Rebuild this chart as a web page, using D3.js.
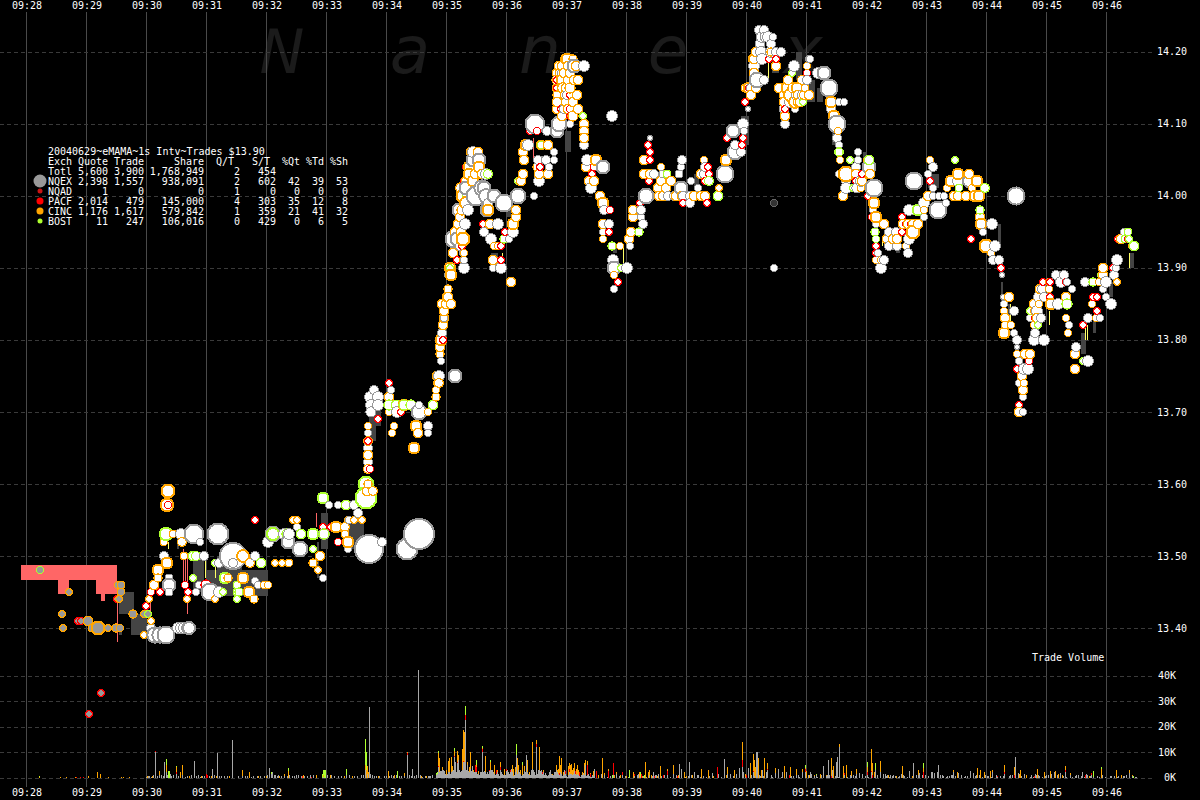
<!DOCTYPE html>
<html><head><meta charset="utf-8">
<script src="https://cdnjs.cloudflare.com/ajax/libs/d3/7.8.5/d3.min.js"></script>
<style>html,body{margin:0;padding:0;background:#000;overflow:hidden}svg{display:block}text{font-family:"DejaVu Sans Mono",monospace;font-size:10px;fill:#fff}</style>
</head><body><svg id="c" width="1200" height="800"></svg>
<script>
// ---------- labels ----------
const timeLabels=["09:28","09:29","09:30","09:31","09:32","09:33","09:34","09:35","09:36","09:37","09:38","09:39","09:40","09:41","09:42","09:43","09:44","09:45","09:46"];
const priceTicks=[14.2,14.1,14.0,13.9,13.8,13.7,13.6,13.5,13.4];
const volumeTicks=[0,10,20,30,40];
const watermark=["N","a","n","e","x"];
const titleLine="20040629~eMAMA~1s Intv~Trades $13.90";
const tableHeads=["Exch","Quote","Trade","Share","Q/T","S/T","%Qt","%Td","%Sh"];
const tableRows=[
["Totl","5,600","3,900","1,768,949","2","454","","",""],
["NQEX","2,398","1,557","938,091","2","602","42","39","53"],
["NQAD","1","0","0","1","0","0","0","0"],
["PACF","2,014","479","145,000","4","303","35","12","8"],
["CINC","1,176","1,617","579,842","1","359","21","41","32"],
["BOST","11","247","106,016","0","429","0","6","5"]];

// ---------- quote spread bands: [startSec, endSec, low, high] ----------
const preOpenSpread=[[-6,90,13.467,13.487],[31,42,13.447,13.467],[69,90,13.447,13.467],[74,78,13.437,13.447]];
const darkSpread=[[92,107,13.42,13.45],[104,120,13.39,13.42],[92,95,13.39,13.40],[166,177,13.45,13.50],[180,241,13.445,13.48],[190,215,13.47,13.50],[150,152,13.51,13.53],[294,301,13.51,13.56],[321,337,13.51,13.55],[290,292,13.47,13.52],
[342,349,13.66,13.71],[349,354,13.68,13.72],[464,471,13.90,13.92],[667,672,14.01,14.03],[696,701,14.02,14.04],[714,722,14.07,14.11],[745,752,14.17,14.20],[769,775,14.16,14.20],[780,788,14.13,14.16],[790,796,14.13,14.15],
[869,873,13.92,13.95],[901,912,14.01,14.03],[971,974,13.93,13.96],[974,976,13.85,13.88],[981,984,13.83,13.85],[1054,1059,13.78,13.81],[1066,1069,13.81,13.83],[1082,1086,13.86,13.88],[1102,1107,13.90,13.92],[480,484,13.97,14.00],[538,544,14.06,14.09],[586,590,13.92,13.93],[836,840,14.03,14.06],[805,809,14.07,14.10]];

// ---------- trade-through wicks: [sec, low, high] ----------
const redWicks=[[91,13.38,13.44],[124,13.41,13.44],[157,13.46,13.51],[159,13.46,13.50],[161,13.42,13.50],[507,14.05,14.08],[290,13.54,13.56]];
const yellowWicks=[[179,13.47,13.50],[189,13.47,13.49],[142,13.51,13.52],[597,13.90,13.93],[476,13.90,13.92],[742,14.16,14.19],[856,13.93,13.94],[1103,13.90,13.92],[984,13.82,13.85],[1002,13.76,13.78],[1023,13.82,13.84],[1059,13.80,13.82],[1061,13.80,13.82],[955,13.96,13.98]];

// ---------- trades: [sec after 09:28, price, shares] ----------
const nqexTrades=[[124,13.40,1600],[128,13.39,5000],[133,13.39,5000],[139,13.39,6300],[151,13.40,2400],[154,13.40,2400],[157,13.40,2400],[160,13.40,2400],[162,13.40,3000],[142,13.47,1200],[142,13.46,3500],[142,13.45,1200],[137,13.50,1600],[154,13.53,2400],[167,13.53,8000],[191,13.53,9800],[173,13.52,900],[177,13.50,1600],[169,13.45,900],[172,13.46,1000],[184,13.45,6300],[193,13.45,2400],[192,13.49,1500],[206,13.50,16500],[206,13.49,1500],[228,13.50,1600],[229,13.465,900],[231,13.46,1000],[241,13.52,2400],[246,13.53,4800],[261,13.52,3500],[257,13.53,2400],[262,13.53,2400],[273,13.51,4800],[270,13.54,900],[296,13.47,900],[296,13.58,900],[302,13.57,1000],[297,13.53,2400],[311,13.57,900],[321,13.51,900],[327,13.57,1600],[322,13.55,1000],[331,13.56,1600],[342,13.51,19200],[355,13.52,1600],[380,13.51,9800],[392,13.53,22000],[341,13.65,1600],[341,13.64,1600],[341,13.63,1600],[341,13.67,900],[343,13.72,2400],[351,13.72,2400],[344,13.71,2400],[351,13.71,2400],[344,13.70,2000],[347,13.73,1600],[364,13.73,1000],[370,13.70,2400],[392,13.70,4800],[392,13.71,900],[401,13.68,1600],[401,13.67,900],[429,13.75,3500],[412,13.75,2400],[421,13.89,900],[437,13.90,2400],[437,13.91,900],[436,13.92,900],[433,13.93,1600],[427,13.94,6300],[432,13.98,3500],[449,14.00,8000],[446,14.05,3500],[459,14.03,2400],[457,14.01,3500],[467,14.00,3500],[461,13.99,1600],[477,13.99,6300],[471,13.96,2400],[457,13.95,1600],[464,13.94,2400],[482,13.94,900],[466,13.90,900],[474,13.90,2400],[486,13.95,2400],[491,14.00,4800],[501,14.07,2400],[509,14.10,8000],[507,14.00,900],[520,14.09,1600],[530,14.09,3500],[532,14.10,4800],[543,14.10,900],[511,14.05,1600],[519,14.05,1600],[527,14.06,900],[527,14.05,900],[522,14.04,1000],[512,14.02,2400],[530,14.12,1600],[547,14.18,3500],[557,14.18,2400],[585,14.11,2400],[557,14.07,1600],[560,14.05,2400],[576,14.04,3500],[565,14.01,2400],[577,13.98,1600],[582,13.96,1600],[576,13.95,900],[586,13.91,2400],[587,13.90,3500],[601,13.90,2400],[587,13.87,900],[603,13.93,1000],[616,13.96,1600],[614,13.97,1000],[614,13.98,1600],[619,14.00,4800],[623,14.08,400],[641,14.00,1600],[647,14.00,1600],[656,14.00,1600],[663,14.00,1600],[654,14.01,3500],[627,14.03,1400],[637,14.03,1200],[652,14.03,1200],[654,14.04,900],[655,14.05,1600],[664,14.02,900],[671,14.01,900],[663,13.99,1600],[677,14.03,1600],[679,14.04,1600],[698,14.03,6300],[706,14.09,3500],[709,14.06,4800],[714,14.06,1600],[709,14.07,1600],[716,14.10,2400],[717,14.09,1000],[721,14.12,400],[724,14.15,1600],[730,14.16,4800],[727,14.18,2400],[734,14.20,2400],[744,14.20,2400],[754,14.20,1600],[736,14.22,2400],[741,14.22,2400],[746,14.22,900],[744,14.21,1600],[732,14.23,1600],[737,14.23,1600],[759,14.10,1600],[768,14.12,900],[767,14.18,2400],[782,14.19,900],[781,14.16,1600],[791,14.17,2400],[783,14.19,900],[797,14.17,3500],[789,14.17,1000],[802,14.15,6300],[817,14.13,900],[812,14.13,900],[804,14.12,1600],[810,14.10,6300],[810,14.08,1600],[812,14.07,900],[831,14.06,900],[831,14.05,900],[842,14.04,3500],[829,14.04,1600],[812,14.03,900],[819,14.02,1600],[819,14.01,2400],[847,14.01,6300],[846,13.98,900],[849,13.96,1000],[862,13.95,1600],[869,13.95,1600],[882,13.94,2400],[862,13.93,1600],[881,13.92,1600],[854,13.90,2400],[858,13.91,1600],[851,13.92,1000],[882,13.98,2400],[897,13.99,2400],[897,13.97,1000],[887,14.02,6300],[907,14.04,1600],[901,14.03,900],[906,14.01,900],[906,14.00,1000],[912,14.00,1000],[917,14.00,900],[919,13.99,900],[911,13.98,6300],[931,14.02,2400],[942,14.02,3000],[965,13.96,2400],[957,13.95,900],[968,13.93,2400],[966,13.91,1600],[972,13.91,1600],[975,13.89,400],[976,13.86,400],[977,13.85,900],[987,13.84,1600],[987,13.81,900],[990,13.80,1600],[990,13.79,400],[992,13.77,900],[997,13.76,2400],[1001,13.76,2400],[996,13.72,900],[996,13.70,1000],[989,14.00,6300],[1007,13.80,2400],[1017,13.80,2400],[1010,13.84,2400],[1012,13.86,2400],[1022,13.88,400],[1029,13.89,1600],[1037,13.89,1600],[1034,13.88,2400],[1040,13.88,900],[1031,13.85,2400],[1042,13.82,900],[1049,13.79,1600],[1047,13.78,700],[1062,13.77,2400],[1062,13.83,1600],[1073,13.83,900],[1079,13.86,900],[1076,13.87,900],[1085,13.85,2400],[1079,13.88,2400],[1087,13.89,1600],[1089,13.90,1000],[1090,13.91,2400],[1097,13.95,900],[747,13.90,900],
[415,13.81,1600],[418,13.83,1000],[414,13.77,1000],[535,14.17,1600],[540,14.14,1600],[537,14.12,1600],[543,14.17,1600],[452,14.05,3500],[447,14.06,2400],[440,14.01,3500],[455,14.01,5000],[460,13.98,3500],[459,14.00,4000],[430,13.94,3500],[436,13.94,2400],[438,13.96,2400],[441,13.98,2400],[738,14.22,1800],[734,14.22,1800],[733,14.21,1800],[736,14.19,2400],[748,14.18,1200],[749,14.20,1600],[737,14.16,1600],[770,14.14,2400],[776,14.14,2400],[763,14.13,2400],[757,14.12,1800],[1015,13.87,1600],[1018,13.86,1600],[1014,13.83,1600],[992,13.74,1000],
[835,14.02,2400],[830,14.01,2000],[870,13.93,1600],[1058,13.88,1600],[1045,13.87,1000],[1003,13.83,1000],[1008,13.81,1600]];

const cincTrades=[[117,13.39,500],[124,13.41,500],[122,13.44,500],[124,13.45,900],[127,13.46,1600],[131,13.48,2400],[131,13.47,1200],[140,13.49,2400],[141,13.59,3500],[140,13.57,3200],[138,13.52,1000],[147,13.53,1000],[156,13.52,1400],[157,13.50,1000],[160,13.44,500],[188,13.44,800],[201,13.47,1200],[216,13.50,2800],[216,13.47,2400],[223,13.49,1400],[222,13.45,2400],[227,13.44,1200],[237,13.46,900],[241,13.46,900],[248,13.49,500],[255,13.49,500],[262,13.49,1000],[266,13.55,800],[270,13.55,700],[287,13.49,1000],[294,13.50,1600],[287,13.49,1200],[291,13.48,800],[309,13.54,2400],[318,13.54,1400],[318,13.53,1000],[321,13.55,700],[321,13.52,2400],[327,13.55,800],[335,13.55,800],[340,13.59,1600],[346,13.59,1400],[341,13.62,1400],[341,13.60,1200],[341,13.66,1300],[341,13.68,900],[341,13.64,1600],[362,13.72,1600],[362,13.70,900],[377,13.71,2400],[367,13.68,900],[365,13.67,900],[389,13.68,2400],[391,13.67,1600],[387,13.65,2400],[401,13.70,900],[409,13.72,1200],[409,13.73,900],[411,13.74,900],[424,13.85,1600],[422,13.86,1600],[424,13.89,2400],[423,13.90,2400],[426,13.92,1600],[436,13.94,3500],[436,13.96,900],[437,14.00,4800],[434,14.01,2200],[442,14.04,2400],[452,14.04,2400],[447,14.02,2400],[461,13.98,2400],[463,13.96,1600],[467,13.93,900],[471,13.93,900],[466,13.91,1600],[484,13.88,1600],[486,13.96,2400],[489,13.97,1600],[489,13.98,1600],[494,14.02,1600],[496,14.03,1600],[497,14.05,1600],[496,14.06,1600],[499,14.07,2400],[514,14.07,1600],[521,14.07,1600],[512,14.03,1600],[521,14.03,1600],[510,14.04,1200],[530,14.12,1600],[531,14.14,1200],[531,14.16,2000],[532,14.18,1800],[533,14.17,1800],[535,14.16,2400],[536,14.15,2200],[540,14.19,2400],[541,14.18,1600],[541,14.16,1600],[551,14.16,1600],[538,14.14,1600],[550,14.14,1600],[551,14.12,1600],[557,14.10,1600],[557,14.09,1600],[557,14.08,1600],[569,14.05,2400],[559,14.04,1800],[562,14.02,1600],[567,14.02,1600],[574,14.00,1600],[576,13.99,2400],[576,13.94,900],[576,13.96,1600],[593,13.93,900],[587,13.89,900],[602,13.94,1600],[604,13.95,1600],[606,13.97,1600],[606,13.98,1600],[617,14.03,1600],[624,14.03,1600],[617,14.05,1600],[632,14.00,1600],[637,14.00,1800],[649,14.00,1600],[655,14.00,1600],[667,14.00,1600],[674,14.00,1600],[678,14.00,1800],[631,14.01,1600],[639,14.01,1600],[634,14.02,1600],[644,14.02,1600],[674,14.03,1600],[634,14.04,900],[677,14.05,900],[700,14.05,2400],[692,14.01,400],[718,14.15,1000],[722,14.15,2400],[724,14.14,1600],[727,14.17,1600],[727,14.19,1600],[729,14.20,1600],[745,14.20,1200],[749,14.18,1600],[752,14.15,1600],[757,14.14,1600],[757,14.13,1600],[759,14.11,1600],[771,14.13,1600],[768,14.13,2800],[771,14.14,1600],[777,14.14,1400],[781,14.18,900],[782,14.14,1600],[778,14.15,1000],[804,14.13,2400],[807,14.11,2400],[811,14.09,900],[813,14.05,900],[819,14.03,4800],[829,14.03,1800],[840,14.05,900],[844,14.03,1600],[836,14.02,1600],[834,14.01,1000],[816,14.00,1600],[847,13.99,2400],[849,13.97,2400],[857,13.96,1600],[860,13.94,1600],[866,13.94,1600],[871,13.94,1600],[876,13.96,1600],[881,13.96,1600],[886,13.96,1600],[891,13.96,1600],[886,13.95,3500],[879,13.93,900],[849,13.91,900],[854,13.91,900],[897,13.98,900],[903,14.05,900],[901,14.00,1600],[920,14.01,900],[924,14.02,2400],[931,14.03,2400],[942,14.03,1600],[950,14.02,2400],[945,14.01,900],[927,14.00,1600],[931,14.00,1600],[939,14.00,1600],[949,14.00,2400],[952,14.00,2400],[953,13.97,1600],[954,13.96,2400],[959,13.93,3500],[964,13.92,900],[982,13.86,1600],[977,13.84,900],[978,13.83,1600],[984,13.82,900],[979,13.82,900],[977,13.81,2400],[990,13.78,900],[998,13.78,1600],[1003,13.78,1600],[995,13.75,1600],[997,13.74,900],[996,13.73,1600],[993,13.70,1600],[1007,13.82,900],[1007,13.85,1600],[1012,13.85,900],[1014,13.87,900],[1022,13.88,900],[1022,13.87,900],[1024,13.85,2400],[1039,13.86,1600],[1039,13.83,900],[1041,13.81,900],[1048,13.78,1600],[1048,13.76,1600],[1069,13.83,900],[1065,13.85,900],[1072,13.88,900],[1076,13.89,1600],[1090,13.88,400],[1076,13.90,1600],[1094,13.94,1600],[1105,13.93,900],
[411,13.75,1600],[412,13.74,1400],[413,13.78,1200],[414,13.80,2400],[413,13.79,1600],[416,13.82,1600],[417,13.83,1600],[415,13.85,1600],[418,13.84,1600],[420,13.86,1600],[421,13.87,1200],[419,13.85,1600],[530,14.17,1800],[530,14.15,1800],[531,14.13,1800],[535,14.18,1600],[538,14.19,1400],[537,14.17,1800],[539,14.15,1800],[539,14.13,1800],[546,14.19,1200],[544,14.17,1800],[544,14.15,2000],[547,14.16,1800],[546,14.13,1600],[549,14.18,1600],[535,14.11,1800],[541,14.12,1800],[546,14.11,2000],[442,14.03,2400],[444,14.06,1800],[439,14.02,1800],[448,14.03,1600],[451,14.06,1600],[455,14.03,1600],[440,13.99,3000],[435,13.98,2000],[433,13.97,1600],[431,13.96,1800],[428,13.95,1600],[434,13.95,1800],[437,13.92,900],[436,13.91,900],[726,14.19,1800],[729,14.15,1600],[760,14.15,2400],[764,14.14,3000],[770,14.15,2400],[775,14.16,1400],[766,14.15,2000],[773,14.13,1800],[761,14.16,1600],[1010,13.83,1600],[1013,13.87,1600],[1008,13.84,1400]];

const pacfTrades=[[119,13.43,500],[124,13.45,900],[133,13.45,500],[141,13.57,900],[158,13.46,900],[161,13.45,700],[179,13.46,2000],[181,13.45,1200],[228,13.55,400],[296,13.54,600],[304,13.54,600],[311,13.52,900],[343,13.62,900],[341,13.66,700],[362,13.74,700],[351,13.69,500],[375,13.70,700],[430,13.91,600],[435,13.93,700],[432,13.97,400],[437,14.02,500],[440,14.04,700],[456,13.96,600],[474,13.91,700],[478,13.95,500],[474,13.93,500],[503,14.09,700],[510,14.09,900],[513,14.04,700],[530,14.15,600],[531,14.16,600],[534,14.12,500],[544,14.12,900],[543,14.14,500],[543,14.15,500],[543,14.11,500],[567,14.04,1000],[566,14.03,800],[583,13.98,900],[582,13.95,600],[591,13.88,700],[613,13.99,600],[622,14.02,600],[622,14.03,500],[624,14.05,700],[624,14.06,700],[621,14.07,700],[656,13.99,500],[680,13.99,500],[679,14.02,600],[682,14.03,700],[681,14.04,500],[691,14.00,1800],[701,14.08,500],[715,14.07,700],[716,14.08,500],[723,14.15,800],[718,14.13,700],[742,14.19,600],[749,14.19,600],[759,14.12,600],[780,14.17,900],[836,14.03,600],[829,14.02,600],[841,14.00,500],[845,13.97,900],[849,13.92,500],[849,13.93,500],[875,13.97,700],[875,13.96,700],[880,13.96,800],[885,13.96,700],[875,13.95,800],[891,13.98,500],[903,14.02,500],[944,13.94,500],[974,13.90,700],[990,13.76,700],[994,13.75,800],[992,13.71,500],[1002,13.77,900],[1009,13.83,500],[1016,13.88,800],[1023,13.88,500],[1023,13.86,400],[1039,13.88,900],[1056,13.82,700],[1067,13.86,500],[1070,13.86,500],[1070,13.84,500],[1086,13.90,800],[1091,13.94,400],[1101,13.94,500],[416,13.80,500]];

const bostTrades=[[139,13.53,3200],[166,13.50,1800],[166,13.47,500],[169,13.50,1500],[198,13.47,2400],[188,13.49,500],[182,13.45,800],[196,13.45,700],[210,13.44,600],[234,13.49,1600],[212,13.45,1200],[210,13.46,1000],[211,13.45,1000],[246,13.53,3000],[260,13.53,2000],[274,13.53,1600],[287,13.53,2400],[297,13.53,2000],[286,13.51,800],[296,13.58,2400],[319,13.57,1800],[339,13.60,4800],[339,13.58,9800],[362,13.71,2000],[377,13.71,2000],[369,13.71,1600],[384,13.71,2000],[406,13.71,1800],[423,13.90,500],[461,14.03,1400],[439,14.00,900],[477,13.94,1200],[491,14.02,500],[514,14.07,900],[556,14.11,700],[585,13.93,1200],[594,13.90,600],[612,13.95,1200],[640,14.03,1100],[682,14.02,1400],[691,14.00,1800],[765,14.17,500],[776,14.13,500],[812,14.06,1300],[823,14.05,500],[842,14.05,1600],[826,14.01,700],[848,13.95,1200],[849,13.94,900],[891,13.98,2400],[928,14.05,800],[958,14.01,1400],[932,14.01,1000],[953,13.98,1200],[1004,13.84,600],[1011,13.82,700],[1056,13.77,800],[1040,13.85,2000],[1066,13.88,1200],[1074,13.89,500],[1107,13.93,1600],[1101,13.95,1000],[1102,13.94,700],[1098,13.94,1000]];

// pre-open prints (grey body): [sec, price, shares]
const preOrange=[[42,13.45,500],[35,13.42,500],[36,13.40,500],[61,13.41,1800],[71,13.40,3500],[65,13.40,1000],[81,13.40,600],[89,13.40,1200],[93,13.40,900],[94,13.46,1100],[91,13.46,900],[94,13.45,1000],[92,13.44,800],[106,13.42,1200],[117,13.42,700]];
const preRed=[[62,13.28,500],[74,13.31,500],[51,13.41,600],[54,13.41,600],[90,13.44,500]];
const preGreen=[[13,13.48,900],[121,13.42,500]];
const nqadTrades=[[747,13.99,900]];

// ---------- volume, thousands of shares ----------
const grayRunStart=410;
const grayRun=[1,1.5,4,2,2.5,2.5,3,3,2.5,1.5,1,1.5,2,2,1.5,2,2.5,3,8,6,2,5.5,7,3,2,2.5,3,6,6,22.7,3,5,2.5,2,3.5,2.5,4.5,2,2,2,2,1.5,1.5,1,2,2,10,2,2.5,2,1.5,2,1.5,2.5,3,3,3,2.2,1.2,1,1.5,2,1.5,.5,3,2,1.5,1,.8,1,2.5,3,2,1.5,2,3.5,2,.5,.8,2,9,1.5,3,2,1.5,.5,1,1.5,2.5,2,9,2,1.2,.8,1,3,3.5,3,2,1,12,1.5,3,3,2.5,3,1.5,2,1,1.8,.8,.5,1,2,3,1.2,.8,1,2,2,3,2,1.5,1,2,1.5,.5,1,3,1.5,.5,.3,1,2,1.5,1.2,1,1.2,2.5,1.5,.8,1.5,1,.5,.3,.8,1,1.8,.8,5,.5,1,1.2,.5,.2,.3,.8,.5,3.5];
const grayRun2Start=575;
const grayRun2=[1.2,.8,.3,.5,1,1.5,.6,1,.4,.2,0,.5,.8,.3,.6,.2,0,.4,.8,1.2,.5,.2,0,.3,.7,1,.4,0,.2,.6,1,1.6,.8,.3,0,.2,.5,.4,0,.3,.2,.8,1.5,1,.5,.6,.3,0,.2,.4,1,.4,0,.6,.4,.2,0,.3,.8,.5,.2,0,0,.3,.5,.8,.3,0,.2,1,1.4,.6,.2,0,0,.5,1,.8,.4,.2,0,.3,.2,.8,1,1.3,1.6,.8,.4,.2,0,.3,1,1.5,1.2,.6,.2,.4,.6,.3,1.2,.6,.2,0,.4,1,1.6,1,.3,.5,1.2,1.8,2,1,.4,.2,.5,.8,.5,1.6,.8,.3,.6,1,1.8,1,.4,.3,.8,.6,.2,0,.3,.4,.2,0,.5,.8,1.2,.8,.5,.3,0,.2,.3,.8,.4,.2,.5,1,1.5,1.2,.8,1,.4,.2,0,.3,.5,1,.6,.2,.8,.6,.2,0,.2,.3,.2,0,.4,.5,.2,0,.6,.8,1.2,.5,.3];
const volGray=[[120,.3],[123,.5],[125,.3],[129,10],[133,.8],[137,.5],[138,6],[140,2],[145,.4],[150,1.5],[156,1],[159,.3],[168,6.5],[172,1],[176,.6],[186,3.5],[191,9.7],[195,.6],[206,14.7],[216,.4],[221,.4],[227,.5],[234,.5],[243,3.7],[246,2],[249,1],[252,.8],[258,.5],[263,1],[268,.6],[272,1],[278,.5],[284,.8],[297,.3],[305,.8],[312,.6],[320,1],[328,.6],[343,27.5],[339,3],[344,1.5],[350,.6],[358,.5],[363,.6],[367,.4],[375,.5],[381,9],[386,3.5],[392,42],[385,.5],[396,.3],[403,.4],[404,.5],
[122,.6],[127,.8],[131,.5],[135,1],[141,1],[144,1.2],[147,.8],[152,.7],[161,.4],[165,.8],[170,.5],[174,.3],[178,.4],[183,.7],[188,.8],[193,.5],[198,.6],[201,.4],[212,.6],[219,.5],[225,.3],[231,.4],[238,.6],[241,1],[245,1.5],[248,1],[251,.6],[255,.4],[261,.5],[266,.5],[270,.8],[275,.4],[281,.6],[287,1],[301,.8],[308,.5],[315,.7],[323,.8],[331,.6],[335,.8],[337,1],[341,1.5],[346,1],[348,.5],[353,.4],[360,.5],[365,1],[370,.8],[373,.5],[378,.6],[383,.8],[388,.6],[390,1],[394,1],[399,.4],[402,.6],[406,.8],
[612,1.5],[623,1],[627,2],[630,1],[638,.6],[641,1],[647,.6],[653,5],[655,3.5],[663,6],[668,.4],[672,1],[677,.5],[686,1.5],[692,1],[698,6.5],[704,.5],[710,.6],[713,3.3],[716,4],[717,2],[722,3.5],[727,2],[730,10],[731,10],[733,1],[736,3],[740,2],[741,3],[745,1],[749,1],[752,3],[756,2],[760,2],[765,.7],[772,1],[776,2],[779,2],[784,2],[790,1],[795,1],[797,4.5],[801,1],[802,7],[806,2],[810,6],[811,8],[813,12],[818,.5],[825,.5],[829,.5],[836,.4],[841,1],[845,2],[849,3],[854,.5],[859,1.5],[861,1],[864,1],[867,.8],[873,.5],[877,.8],[883,2.7],[887,5.3],[892,1],[899,.8],[905,1],[906,2],[912,5],[916,.8],[921,.4],[925,1],[927,2.3],[932,.3],[939,.6],[944,1.5],[949,.6],[953,.6],[961,.6],[966,2],[970,1],[977,.4],[978,1.5],[984,.8],[989,7],[992,1],[998,1],[1005,.8],[1009,1.2],[1012,1],[1020,1],[1028,1],[1034,.8],[1039,2],[1044,1],[1050,1],[1056,2],[1060,1.5],[1065,1],[1071,.6],[1076,.6],[1084,.5],[1092,.5],[1098,.5],[1103,.5],[1110,.3]];
const volOrange=[[13,.2],[34,.3],[40,.3],[49,.3],[62,.7],[71,2],[74,1.2],[82,.3],[95,.3],[97,.3],[103,.3],[121,.4],[126,.6],[133,1.6],[140,3],[150,2],[154,2],[156,4],[163,.5],[175,.4],[185,.5],[190,.5],[203,.4],[216,2.7],[223,2.2],[232,.5],[240,.4],[253,.5],[258,1],[262,2.7],[277,.8],[290,1],[297,.5],[304,.8],[318,.5],[326,.6],[340,3],[339,2],[342,2],[341,3],[352,.5],[362,2.7],[368,.8],[381,.3],[378,1],[395,.5],[400,.6],
[412,5],[413,5.5],[416,1],[420,2],[422,4.5],[423,5.5],[425,6],[426,2],[428,2],[431,4.5],[432,2],[436,8],[437,12],[438,12],[441,1],[443,2],[444,6.5],[447,1],[450,1],[452,1],[456,.5],[459,6.5],[464,3],[468,3.7],[471,1],[474,2],[478,2.7],[486,3],[487,3],[489,2],[491,6],[492,2],[494,1.5],[496,4],[498,2],[501,5],[503,1.5],[506,10.3],[510,1.3],[513,9],[517,1],[526,.5],[530,2],[531,1],[532,2],[533,6.5],[534,3],[535,6],[537,1],[542,3.5],[543,2],[544,3.5],[545,4],[546,2],[547,2.5],[548,3],[550,2.5],[551,3.5],[552,2],[556,1],[558,5],[559,2],[561,1.5],[564,.5],[567,2],[572,1],[576,7.5],[578,1],[582,1],[588,1],[590,.5],[594,1],[600,.4],[607,2],[613,2],[616,.5],[619,6],[622,2],[623,2],[625,1],[631,.5],[634,4.5],[641,.6],[647,3.5],[652,1],[658,2],[660,.5],[666,1],[675,3.3],[682,3],[687,.5],[700,1],[701,2.5],[708,3],[716,7],[719,1],[724,5.5],[727,6.5],[728,6.5],[729,4],[732,7.5],[735,3],[738,7.5],[741,2],[749,2],[758,4.5],[764,3.7],[770,2.5],[776,1.5],[779,.5],[780,2.5],[783,1],[788,.5],[794,1.3],[800,.6],[805,7],[807,4.5],[813,1],[817,4.5],[820,5],[825,2],[830,2],[841,2],[845,8.5],[846,5],[848,2],[854,4.5],[862,1],[870,.4],[876,4.5],[886,.5],[892,2],[897,1.7],[927,.5],[931,2.2],[951,3.7],[954,3],[958,2],[964,2.7],[966,1],[978,3],[988,3],[993,1.5],[994,3],[1000,1],[1011,3.5],[1018,2],[1024,2.5],[1029,2.5],[1032,1.5],[1036,1],[1039,1.5],[1044,.6],[1063,.6],[1075,3.3],[1090,3],[1095,1],[1103,1.4],[1106,.5]];
const volRed=[[50,.2],[54,.2],[57,.2],[129,.3],[150,.7],[180,1.3],[181,1],[276,.5],[285,.3],[381,.6],[412,.5],[423,.3],[428,.5],[431,.5],[437,.5],[439,2],[449,3],[450,2],[456,1.2],[463,.5],[470,1.5],[474,1],[480,.8],[484,1],[510,1.3],[516,.8],[533,.8],[539,1],[543,1.5],[549,1],[553,1.5],[561,4],[564,1],[570,2.5],[582,2.5],[587,4.5],[596,1],[608,1],[615,1.5],[628,.7],[637,1],[641,1.7],[651,.5],[691,4],[716,3],[720,1],[727,.7],[741,.5],[763,1],[779,1],[805,.5],[818,.8],[841,1],[845,.5],[846,.8],[897,2],[971,.4],[978,.5],[988,1],[1008,.6],[1039,1],[1059,1],[1065,.8]];
const volGreen=[[13,.2],[140,2.3],[142,2.5],[143,2.5],[150,.5],[245,.5],[262,1],[296,1.5],[297,2],[298,3],[299,3],[320,2.5],[339,10],[340,7],[371,2.7],[410,.7],[411,.5],[412,1],[428,1],[439,3.2],[450,2],[456,.5],[464,.8],[490,4],[496,1],[586,1],[603,3],[614,2],[618,1],[779,1.2],[790,.5],[841,2],[849,2.5],[897,2],[1067,2.5],[1075,1],[1107,.6]];

// ---------- scales ----------
const svg=d3.select("#c");
const x=d3.scaleLinear().domain([0,1080]).range([26.5,1106.5]);
const y=d3.scaleLinear().domain([13.40,14.20]).range([628,51.5]);
const v=d3.scaleLinear().domain([0,40]).range([777.5,675.5]);
const rad=d3.scalePow().exponent(.45).domain([0,22000]).range([0,15]);
const GRAY="#999",ORANGE="#ffa500",RED="#f00",GREEN="#adff2f";

svg.append("rect").attr("width",1200).attr("height",800).attr("fill","#000");

// watermark
const wmCentres=d3.scaleQuantize().domain([0,5]).range([282,410,540,668,803]);
svg.append("g").selectAll("text").data(watermark).join("text")
 .text(d=>d).attr("x",(d,i)=>wmCentres(i)).attr("y",73).attr("text-anchor","middle")
 .style("font-family","DejaVu Sans, sans-serif").style("font-size",(d,i)=>i==0?"60px":"66px").style("font-style","italic").style("fill","#1b1b1b");

// grid
const grid=svg.append("g");
const tickSecs=timeLabels.map((d,i)=>i*60);
grid.selectAll(".vl").data(tickSecs).join("line").attr("x1",d=>x(d)).attr("x2",d=>x(d)).attr("y1",12).attr("y2",787).attr("stroke","#4a4a4a");
grid.selectAll(".hp").data(priceTicks).join("line").attr("x1",0).attr("x2",1153).attr("y1",d=>Math.round(y(d))+.5).attr("y2",d=>Math.round(y(d))+.5).attr("stroke","#3a3a3a").attr("stroke-dasharray","4 3");
grid.selectAll(".hv").data(volumeTicks).join("line").attr("x1",0).attr("x2",1153).attr("y1",d=>Math.round(v(d))+.5).attr("y2",d=>Math.round(v(d))+.5).attr("stroke","#3a3a3a").attr("stroke-dasharray","4 3");

// spreads
const bands=(data,fill)=>svg.append("g").attr("shape-rendering","crispEdges").selectAll("rect").data(data).join("rect")
 .attr("x",d=>x(d[0])).attr("width",d=>x(d[1])-x(d[0])).attr("y",d=>y(d[3])).attr("height",d=>y(d[2])-y(d[3])).attr("fill",fill);
bands(darkSpread,"#444");
bands(preOpenSpread,"#ff6666");

// wicks
const wicks=(data,col)=>svg.append("g").attr("shape-rendering","crispEdges").selectAll("line").data(data).join("line")
 .attr("x1",d=>x(d[0])).attr("x2",d=>x(d[0])).attr("y1",d=>y(d[1])).attr("y2",d=>y(d[2])).attr("stroke",col);
wicks(redWicks,"#ff6666");wicks(yellowWicks,"#ffff66");

// trades
const tag=(arr,col,body)=>arr.map(d=>({sec:d[0],price:d[1],shares:d[2],col,body}));
const allTrades=d3.sort([].concat(tag(nqexTrades,GRAY,"#fff"),tag(cincTrades,ORANGE,"#fff"),tag(pacfTrades,RED,"#fff"),tag(bostTrades,GREEN,"#fff"),tag(preOrange,ORANGE,GRAY),tag(preRed,RED,GRAY),tag(preGreen,GREEN,GRAY),tag(nqadTrades,"#666","#333")),d=>d.sec);
const radius=d=>d.col===GRAY?rad(d.shares):Math.max(3.4,rad(d.shares));
const ring=d=>d.col===GRAY?(rad(d.shares)>6?2:1):(rad(d.shares)>5.5?2:1.3);
svg.append("g").attr("shape-rendering","crispEdges").selectAll("circle").data(allTrades).join("circle")
 .attr("cx",d=>Math.round(x(d.sec))).attr("cy",d=>Math.round(y(d.price)))
 .attr("r",radius).attr("fill",d=>d.body).attr("stroke",d=>d.col)
 .attr("stroke-width",ring);

// volume stack
const keys=["gray","red","orange","green"];
const volTable=new Map();
const put=(s,k,val)=>{if(!volTable.has(s))volTable.set(s,{sec:s,gray:0,red:0,orange:0,green:0});volTable.get(s)[k]+=val;};
grayRun.forEach((val,i)=>put(grayRunStart+i,"gray",val));
grayRun2.forEach((val,i)=>put(grayRun2Start+i*3,"gray",val));
volGray.forEach(d=>put(d[0],"gray",d[1]));volRed.forEach(d=>put(d[0],"red",d[1]));volOrange.forEach(d=>put(d[0],"orange",d[1]));volGreen.forEach(d=>put(d[0],"green",d[1]));
const stacked=d3.stack().keys(keys)(Array.from(volTable.values()));
const volCol={gray:"#a8a8a8",red:"#f00",orange:"#ffa500",green:"#adff2f"};
svg.append("g").attr("shape-rendering","crispEdges").selectAll("g").data(stacked).join("g").attr("fill",s=>volCol[s.key])
 .selectAll("rect").data(s=>s).join("rect")
 .attr("x",d=>Math.floor(x(d.data.sec))).attr("width",1).attr("y",d=>v(d[1])).attr("height",d=>Math.max(0,v(d[0])-v(d[1])));

// axes (labels only)
const strip=g=>{g.select(".domain").remove();g.selectAll("line").remove();g.selectAll("text").style("font-family",'"DejaVu Sans Mono",monospace').style("font-size","10px").style("fill","#fff");};
const fmtT=s=>timeLabels[s/60];
svg.append("g").attr("transform","translate(0,2)").call(d3.axisTop(x).tickValues(tickSecs).tickFormat(fmtT).tickSize(0).tickPadding(-7)).call(strip);
svg.append("g").attr("transform","translate(0,789)").call(d3.axisBottom(x).tickValues(tickSecs).tickFormat(fmtT).tickSize(0).tickPadding(0)).call(strip);
svg.append("g").attr("transform","translate(1187,0)").call(d3.axisLeft(y).tickValues(priceTicks).tickFormat(d3.format(".2f")).tickSize(0).tickPadding(0)).call(strip);
svg.append("g").attr("transform","translate(1176,0)").call(d3.axisLeft(v).tickValues(volumeTicks).tickFormat(d=>d+"K").tickSize(0).tickPadding(0)).call(strip);
svg.append("text").attr("x",1032).attr("y",661).text("Trade Volume");

// legend
const colEnd=[null,108,144,204,240,276,300,324,348];
const headEnd=[null,108,144,204,234,270,300,324,348];
const lg=svg.append("g");
lg.append("text").attr("x",48).attr("y",155).text(titleLine);
const cell=(row,ry,ends)=>row.forEach((t,i)=>lg.append("text").attr("x",i==0?48:ends[i]).attr("y",ry).attr("text-anchor",i==0?"start":"end").text(t));
cell(tableHeads,165,headEnd);
tableRows.forEach((r,i)=>cell(r,175+i*10,colEnd));
const legendDots=[["NQEX",GRAY,6.5],["NQAD","#c81414",2.5],["PACF",RED,3.5],["CINC",ORANGE,3.5],["BOST",GREEN,2.5]];
lg.selectAll("circle").data(legendDots).join("circle").attr("cx",40).attr("cy",(d,i)=>181+i*10).attr("r",d=>d[2]).attr("fill",d=>d[1]);
</script></body></html>
